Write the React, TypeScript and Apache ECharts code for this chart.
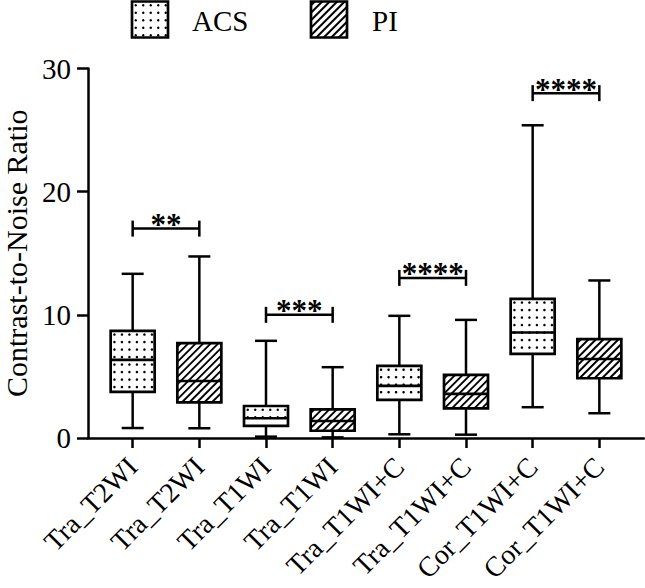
import React, { useEffect, useRef } from "react";
import * as echarts from "echarts";

const categories = ["Tra_T2WI", "Tra_T2WI", "Tra_T1WI", "Tra_T1WI", "Tra_T1WI+C", "Tra_T1WI+C", "Cor_T1WI+C", "Cor_T1WI+C"];
const groups = ["ACS", "PI", "ACS", "PI", "ACS", "PI", "ACS", "PI"];
const whiskerLow = [0.81, 0.79, 0.11, 0.05, 0.3, 0.27, 2.5, 2.01];
const q1 = [3.74, 2.9, 0.98, 0.59, 3.09, 2.41, 6.83, 4.85];
const median = [6.34, 4.63, 1.6, 1.38, 4.23, 3.58, 8.56, 6.42];
const q3 = [8.7, 7.7, 2.6, 2.33, 5.85, 5.12, 11.3, 8.02];
const whiskerHigh = [13.33, 14.74, 7.89, 5.75, 9.92, 9.59, 25.39, 12.79];
const yTicks = [0, 10, 20, 30];
const bracketFrom = [0, 2, 4, 6];
const bracketTo = [1, 3, 5, 7];
const bracketY = [17, 10, 13, 28];
const bracketLabels = ["**", "***", "****", "****"];
const legendNames = ["ACS", "PI"];

const FONT = "Liberation Serif";
const BLACK = "#000";

function dotChildren(x0: number, y0: number, x1: number, y1: number, step = 7.5, r = 1.25) {
  const out: any[] = [];
  for (let y = y0 + step / 2; y < y1 - 1.5; y += step) {
    for (let x = x0 + step / 2; x < x1 - 1.5; x += step) {
      out.push({ type: "circle", silent: true, shape: { cx: x, cy: y, r }, style: { fill: BLACK } });
    }
  }
  return out;
}

function hatchChildren(x0: number, y0: number, x1: number, y1: number, step = 7.5, lw = 1.9) {
  const out: any[] = [];
  for (let c = x0 + y0 + step / 2; c < x1 + y1; c += step) {
    const xa = Math.max(x0, c - y1);
    const xb = Math.min(x1, c - y0);
    if (xb - xa < 0.5) continue;
    out.push({
      type: "line",
      silent: true,
      shape: { x1: xa, y1: c - xa, x2: xb, y2: c - xb },
      style: { stroke: BLACK, lineWidth: lw },
    });
  }
  return out;
}

function patternFor(group: string, x0: number, y0: number, x1: number, y1: number) {
  return group === "ACS" ? dotChildren(x0, y0, x1, y1) : hatchChildren(x0, y0, x1, y1);
}

export default function App() {
  const ref = useRef<HTMLDivElement>(null);

  useEffect(() => {
    if (!ref.current) return;
    const chart = echarts.init(ref.current, undefined, { renderer: "svg" });

    const boxData = categories.map((_, i) => [i, whiskerLow[i], q1[i], median[i], q3[i], whiskerHigh[i]]);
    const bracketData = bracketFrom.map((f, i) => [f, bracketTo[i], bracketY[i]]);

    const legendGraphics: any[] = [];
    const legendBoxX = [132, 311];
    const legendTextX = [192, 372];
    legendNames.forEach((name, k) => {
      const x0 = legendBoxX[k];
      const y0 = 1.5;
      const s = 36;
      legendGraphics.push({
        type: "rect",
        silent: true,
        shape: { x: x0, y: y0, width: s, height: s },
        style: { fill: "#fff", stroke: "none" },
      });
      patternFor(name, x0, y0, x0 + s, y0 + s).forEach((c) => legendGraphics.push(c));
      legendGraphics.push({
        type: "rect",
        silent: true,
        shape: { x: x0, y: y0, width: s, height: s },
        style: { fill: "none", stroke: BLACK, lineWidth: 2.7 },
      });
      legendGraphics.push({
        type: "text",
        silent: true,
        style: {
          text: name,
          x: legendTextX[k],
          y: 21,
          fontSize: 29,
          fontFamily: FONT,
          fill: BLACK,
          verticalAlign: "middle",
          align: "left",
        },
      });
    });

    const option: any = {
      animation: false,
      backgroundColor: "#fff",
      grid: { left: 88, right: 1, top: 68.5, bottom: 150, outerBoundsMode: "none" },
      xAxis: {
        type: "value",
        min: -0.67,
        max: 7.67,
        splitLine: { show: false },
        axisLine: { show: true, onZero: false, lineStyle: { color: BLACK, width: 2.5 } },
        axisTick: {
          show: true,
          customValues: categories.map((_, i) => i),
          length: 10,
          lineStyle: { color: BLACK, width: 2.5 },
        },
        axisLabel: {
          customValues: categories.map((_, i) => i),
          formatter: (v: number) => categories[Math.round(v)] ?? "",
          rotate: 45,
          margin: 24,
          fontSize: 28,
          fontFamily: FONT,
          color: BLACK,
        },
      },
      yAxis: {
        type: "value",
        min: 0,
        max: 30,
        interval: 10,
        name: "Contrast-to-Noise Ratio",
        nameLocation: "middle",
        nameGap: 52,
        nameTextStyle: { fontSize: 30, fontFamily: FONT, color: BLACK },
        splitLine: { show: false },
        axisLine: { show: true, onZero: false, lineStyle: { color: BLACK, width: 2.5 } },
        axisTick: { show: true, length: 11, lineStyle: { color: BLACK, width: 2.5 } },
        axisLabel: {
          customValues: yTicks,
          margin: 17,
          fontSize: 29,
          fontFamily: FONT,
          color: BLACK,
        },
      },
      graphic: legendGraphics,
      series: [
        {
          type: "custom",
          name: "boxes",
          data: boxData,
          encode: { x: 0, y: [1, 2, 3, 4, 5] },
          clip: false,
          renderItem: (params: any, api: any) => {
            const i = api.value(0);
            const idx = params.dataIndex;
            const cx = api.coord([i, 0])[0];
            const bw = api.coord([i + 0.33, 0])[0] - api.coord([i - 0.33, 0])[0];
            const cw = bw / 2;
            const yLow = api.coord([i, api.value(1)])[1];
            const yQ1 = api.coord([i, api.value(2)])[1];
            const yMed = api.coord([i, api.value(3)])[1];
            const yQ3 = api.coord([i, api.value(4)])[1];
            const yHigh = api.coord([i, api.value(5)])[1];
            const x0 = cx - bw / 2;
            const x1 = cx + bw / 2;
            const lineStyle = { stroke: BLACK, lineWidth: 2.5 };
            const children: any[] = [
              { type: "line", shape: { x1: cx, y1: yHigh, x2: cx, y2: yQ3 }, style: lineStyle },
              { type: "line", shape: { x1: cx - cw / 2, y1: yHigh, x2: cx + cw / 2, y2: yHigh }, style: lineStyle },
              { type: "line", shape: { x1: cx, y1: yQ1, x2: cx, y2: yLow }, style: lineStyle },
              { type: "line", shape: { x1: cx - cw / 2, y1: yLow, x2: cx + cw / 2, y2: yLow }, style: lineStyle },
              {
                type: "rect",
                shape: { x: x0, y: yQ3, width: bw, height: yQ1 - yQ3 },
                style: { fill: "#fff", stroke: "none" },
              },
              ...patternFor(groups[idx], x0, yQ3, x1, yQ1),
              { type: "line", shape: { x1: x0, y1: yMed, x2: x1, y2: yMed }, style: { stroke: BLACK, lineWidth: 2.6 } },
              {
                type: "rect",
                shape: { x: x0, y: yQ3, width: bw, height: yQ1 - yQ3 },
                style: { fill: "none", stroke: BLACK, lineWidth: 2.7 },
              },
            ];
            return { type: "group", children };
          },
        },
        {
          type: "custom",
          name: "significance",
          data: bracketData,
          encode: { x: [0, 1], y: 2 },
          clip: false,
          renderItem: (params: any, api: any) => {
            const a = api.coord([api.value(0), api.value(2)]);
            const b = api.coord([api.value(1), api.value(2)]);
            const st = { stroke: BLACK, lineWidth: 2.5 };
            return {
              type: "group",
              children: [
                { type: "line", shape: { x1: a[0], y1: a[1], x2: b[0], y2: b[1] }, style: st },
                { type: "line", shape: { x1: a[0], y1: a[1] - 8, x2: a[0], y2: a[1] + 8 }, style: st },
                { type: "line", shape: { x1: b[0], y1: b[1] - 8, x2: b[0], y2: b[1] + 8 }, style: st },
                {
                  type: "text",
                  style: {
                    text: bracketLabels[params.dataIndex],
                    x: (a[0] + b[0]) / 2,
                    y: a[1] - 4,
                    fontSize: 31,
                    fontWeight: "bold",
                    fontFamily: FONT,
                    fill: BLACK,
                    align: "center",
                    verticalAlign: "middle",
                  },
                },
              ],
            };
          },
        },
      ],
    };

    chart.setOption(option);
    return () => chart.dispose();
  }, []);

  return (
    <div
      ref={ref}
      style={{ position: "fixed", left: 0, top: 0, width: 645, height: 588, background: "#fff" }}
    />
  );
}
